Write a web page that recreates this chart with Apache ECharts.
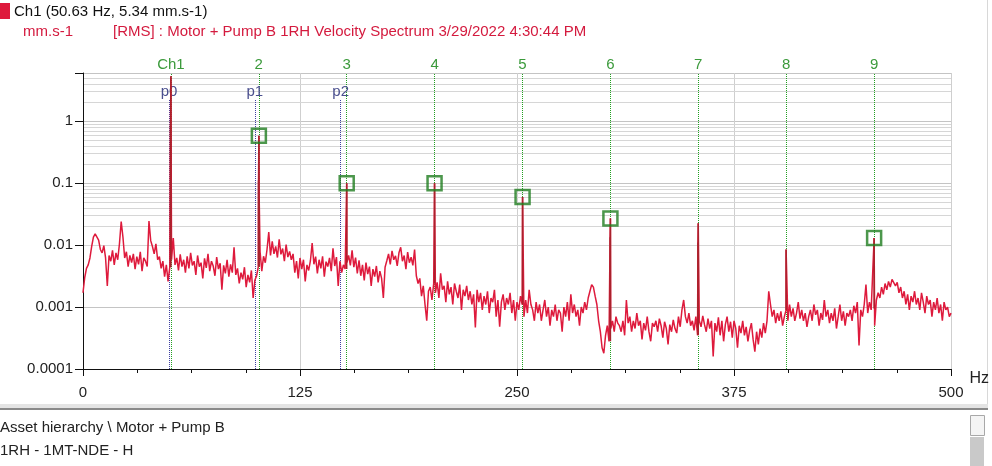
<!DOCTYPE html>
<html>
<head>
<meta charset="utf-8">
<script src="https://cdn.jsdelivr.net/npm/echarts@6/dist/echarts.min.js"></script>
<style>
html,body{margin:0;padding:0;background:#fff;}
#chart{width:992px;height:466px;}
</style>
</head>
<body>
<div id="chart"></div>
<script>
// ---------- DATA ----------
const headerTitle = 'Ch1 (50.63 Hz, 5.34 mm.s-1)';
const unitLabel = 'mm.s-1';
const spectrumTitle = '[RMS] : Motor + Pump B 1RH Velocity Spectrum 3/29/2022 4:30:44 PM';
const panelLines = ['Asset hierarchy \\ Motor + Pump B', '1RH - 1MT-NDE - H'];

const xTickLabels = ['0', '125', '250', '375', '500'];
const yTickLabels = ['0.0001', '0.001', '0.01', '0.1', '1'];

// noise floor, one value per Hz from 0 to 500 Hz (mm/s RMS)
const spectrumStepHz = 1;
const noiseFloor = [
  .0017,.003,.0042,.0048,.0062,.0095,.0135,.0152,.0145,.012,.0085,
  .0075,.0098,.0062,.0022,.0068,.0055,.0082,.0048,.0075,.0058,
  .0105,.024,.0135,.0062,.0078,.0045,.0068,.0052,.0072,.0041,
  .0065,.0049,.0078,.0038,.0062,.0055,.0045,.0245,.0118,.0095,
  .0072,.0105,.0058,.0065,.0042,.0055,.0031,.0048,.0026,.0044,
  .0058,.013,.0048,.0062,.0039,.0071,.0045,.0058,.0036,.0066,
  .0042,.0075,.0047,.0055,.0033,.0068,.0045,.0052,.0029,.0061,
  .0043,.0072,.0038,.0055,.0046,.0032,.0064,.0041,.0051,.0019,
  .0047,.0035,.0058,.0031,.0049,.0036,.0092,.0033,.0042,.0024,
  .0036,.0028,.0044,.0021,.0033,.0025,.0039,.0014,.0027,.0032,
  .0045,.0078,.0038,.0066,.0052,.0085,.0162,.0068,.0115,.0072,
  .0095,.0063,.0124,.0071,.0088,.0055,.0102,.0064,.0079,.0058,
  .0072,.0036,.0055,.0029,.0062,.0041,.0058,.0026,.0048,.0039,
  .0056,.0108,.0049,.0065,.0035,.0058,.0042,.0066,.0031,.0054,
  .0045,.0062,.0038,.0089,.0046,.0064,.0022,.0055,.0036,.0048,
  .0041,.0052,.0068,.0047,.0082,.0044,.0063,.0035,.0057,.0032,
  .0048,.0027,.0052,.0034,.0045,.0022,.0041,.0031,.0046,.0025,
  .0038,.0029,.0014,.0044,.0056,.0072,.0049,.0081,.0058,.0067,
  .0046,.0075,.0092,.0055,.0068,.0041,.0077,.0052,.0064,.0047,
  .0085,.0032,.0024,.0029,.0015,.0022,.0011,.0006,.0018,.0021,
  .0013,.0024,.0017,.0025,.0014,.0035,.0019,.0022,.0012,.0026,
  .0016,.0021,.0011,.0024,.0018,.0014,.0023,.0009,.0019,.0015,
  .0022,.0013,.0018,.0011,.0016,.00047,.0019,.0012,.0017,.0009,
  .0015,.0011,.0018,.0008,.0014,.0012,.0019,.0007,.0013,.00048,
  .0012,.0016,.0009,.0014,.0011,.0017,.0008,.0013,.0006,.0012,
  .0009,.0015,.0011,.0007,.0013,.0008,.0019,.0011,.0009,.0006,
  .0012,.0008,.0011,.0006,.0009,.0013,.0007,.0010,.0005,.0009,
  .0007,.0011,.0006,.0009,.0008,.0004,.0010,.0007,.0012,.0006,
  .0016,.0008,.0011,.0007,.0009,.0005,.0010,.0008,.0012,.0009,
  .0014,.0018,.0023,.0021,.0015,.0011,.0006,.0004,.00022,.00018,
  .00035,.0005,.00028,.00045,.0006,.0004,.0007,.00055,.0005,.0004,
  .0006,.00035,.0013,.00055,.0007,.0004,.0006,.00045,.0008,.0005,
  .0006,.0003,.00055,.00042,.0007,.0004,.00028,.00055,.00048,.0006,
  .0004,.00065,.0005,.00032,.00058,.00045,.00025,.00052,.0004,.00062,
  .00045,.00038,.0007,.00048,.0009,.0013,.0007,.00055,.0008,.0005,
  .0006,.00042,.0007,.00035,.0006,.00048,.00072,.00052,.0004,.00065,
  .00045,.0006,.00016,.00055,.0004,.00068,.00035,.0006,.00028,.00052,
  .0007,.0004,.00058,.00032,.0006,.00045,.00022,.0005,.00038,.0006,
  .00035,.00048,.00028,.00042,.00055,.0003,.00019,.0004,.00025,.00045,
  .00032,.00055,.00038,.0006,.0018,.0011,.0007,.0009,.00055,.0008,
  .0006,.00085,.0005,.0007,.0009,.0006,.0011,.0007,.00095,.0006,
  .0008,.0012,.00065,.0009,.0006,.0008,.00048,.0007,.0009,.0006,
  .0011,.00075,.0009,.0005,.0008,.00062,.0013,.0007,.0009,.00055,
  .0008,.0006,.00095,.00045,.0007,.0011,.0006,.00085,.0005,.0008,
  .0007,.0009,.0006,.00105,.0008,.0012,.00024,.0009,.0007,.0011,
  .0023,.0008,.0012,.0009,.00095,.0005,.0013,.0017,.0014,.0021,
  .0016,.0024,.0019,.0026,.0021,.0028,.0029,.0022,.0025,.0017,
  .0021,.0014,.0018,.0011,.0016,.0009,.0015,.0012,.0018,.0011,
  .0014,.0009,.0017,.0012,.0008,.0015,.0011,.0013,.0007,.0012,
  .0009,.0014,.0008,.0011,.0006,.0012,.0009,.0010,.0007,.0008
];

// discrete spectral peaks (Hz, mm/s)
const peakHz  = [50.4, 50.63, 101.1, 101.3, 101.5, 151.9, 202.5, 253.2, 303.6, 303.8, 354.2, 354.4, 405.0, 455.7];
const peakVal = [0.9,  5.34,  0.11,  0.58,  0.055, 0.1,   0.1,   0.06,  0.0134, 0.027, 0.011, 0.0226, 0.0085, 0.013];

// harmonic cursors (1x..9x of 50.63 Hz)
const harmonicHz = [50.63, 101.26, 151.89, 202.52, 253.15, 303.78, 354.41, 405.04, 455.67];
const harmonicLabels = ['Ch1', '2', '3', '4', '5', '6', '7', '8', '9'];

// harmonic markers (green squares)
const markerHz  = [101.3, 151.9, 202.5, 253.2, 303.8, 455.7];
const markerVal = [0.58,  0.1,   0.1,   0.06,  0.027, 0.013];

// peak cursors p0..p2
const pCursorHz = [49.6, 99.0, 148.4];
const pCursorLabels = ['p0', 'p1', 'p2'];
const pCursorTop = 2.2;

// ---------- BUILD ----------
const spectrum = noiseFloor.map((v, i) => [i * spectrumStepHz, v]);
peakHz.forEach((f, i) => spectrum.push([f, peakVal[i]]));
spectrum.sort((a, b) => a[0] - b[0]);

const stems = [];
peakHz.forEach((f, i) => {
  const base = noiseFloor[Math.floor(f / spectrumStepHz)];
  stems.push([f, base], [f, peakVal[i]], [f, null]);
});

const markers = markerHz.map((f, i) => [f, markerVal[i]]);

const yMin = 0.0001, yMax = 6;
const minorGrid = [];
for (let e = -4; e <= 0; e++) {
  for (let k = 2; k <= 9; k++) {
    const v = k * Math.pow(10, e);
    if (v < yMax) minorGrid.push({ yAxis: v });
  }
}

const FONT = '"Liberation Sans", Arial, sans-serif';
const RED = '#de1a3c';
const GREEN_LINE = '#22a022';
const BLUE_LINE = '#3d3fa0';

const chart = echarts.init(document.getElementById('chart'), null, { renderer: 'canvas' });
chart.setOption({
  animation: false,
  backgroundColor: '#ffffff',
  grid: { left: 83, right: 40, top: 73, bottom: 97 },
  xAxis: {
    type: 'value', min: 0, max: 500, interval: 125,
    name: 'Hz', nameLocation: 'end', nameGap: 14,
    nameTextStyle: { fontSize: 16, color: '#222', fontFamily: FONT, verticalAlign: 'top', padding: [2, 0, 0, 0] },
    axisLine: { show: true, onZero: false, lineStyle: { color: '#111', width: 1 } },
    axisTick: { show: true, length: 7, lineStyle: { color: '#111' } },
    minorTick: { show: true, splitNumber: 4, length: 4, lineStyle: { color: '#111' } },
    splitLine: { show: true, lineStyle: { color: '#cfcfcf', width: 1 } },
    axisLabel: {
      margin: 16, fontSize: 15, color: '#222', fontFamily: FONT,
      formatter: v => xTickLabels[Math.round(v / 125)] ?? ''
    }
  },
  yAxis: {
    type: 'log', logBase: 10, min: yMin, max: yMax,
    axisLine: { show: true, lineStyle: { color: '#111', width: 1 } },
    axisTick: { show: true, length: 8, lineStyle: { color: '#111' } },
    splitLine: { show: true, lineStyle: { color: '#c4c4c4', width: 1 } },
    axisLabel: {
      margin: 10, fontSize: 15, color: '#222', fontFamily: FONT,
      formatter: v => {
        const l = Math.log10(v);
        if (Math.abs(l - Math.round(l)) > 1e-6) return '';
        return yTickLabels[Math.round(l) + 4] ?? '';
      }
    }
  },
  series: [
    {
      name: 'minorGrid', type: 'line', data: [], silent: true,
      markLine: {
        silent: true, symbol: ['none', 'none'], z: 0, animation: false,
        label: { show: false },
        lineStyle: { color: '#d6d6d6', type: 'solid', width: 1 },
        data: minorGrid
      }
    },
    {
      name: 'spectrum', type: 'line', data: spectrum, showSymbol: false, z: 3,
      lineStyle: { color: RED, width: 1.5 },
      itemStyle: { color: RED },
      markLine: {
        silent: true, symbol: ['none', 'none'], z: 1, animation: false,
        lineStyle: { color: GREEN_LINE, type: 'dotted', width: 1, opacity: 1 },
        emphasis: { disabled: true },
        label: {
          show: true, position: 'end', distance: 1,
          color: '#3b9a3b', fontSize: 15, fontFamily: FONT,
          formatter: p => p.name
        },
        data: harmonicHz.map((f, i) => ({
          xAxis: f, name: harmonicLabels[i],
          lineStyle: { color: GREEN_LINE, type: 'dotted', width: 1 }
        }))
      }
    },
    {
      name: 'stems', type: 'line', data: stems, showSymbol: false, z: 4,
      connectNulls: false,
      lineStyle: { color: '#a8222c', width: 1.5 },
      itemStyle: { color: '#a8222c' },
      markLine: {
        silent: true, symbol: ['none', 'none'], z: 1, animation: false,
        lineStyle: { color: BLUE_LINE, type: 'dotted', width: 1 },
        emphasis: { disabled: true },
        label: {
          show: true, position: 'end', distance: 1,
          color: '#4a4f8e', fontSize: 15, fontFamily: FONT,
          formatter: p => p.name
        },
        data: pCursorHz.map((f, i) => [
          { coord: [f, yMin], name: pCursorLabels[i], lineStyle: { color: BLUE_LINE, type: 'dotted', width: 1 } },
          { coord: [f, pCursorTop] }
        ])
      }
    },
    {
      name: 'markers', type: 'scatter', data: markers, z: 6,
      symbol: 'rect', symbolSize: 14,
      itemStyle: { color: 'rgba(255,255,255,0)', borderColor: '#1f7d1f', borderWidth: 2.5 }
    }
  ],
  graphic: [
    { type: 'rect', left: 0, top: 3, shape: { width: 10, height: 16 }, style: { fill: RED } },
    { type: 'text', left: 14, top: 4, style: { text: headerTitle, fill: '#111', font: '15px ' + FONT } },
    { type: 'text', left: 23, top: 24, style: { text: unitLabel, fill: '#d41a3e', font: '15px ' + FONT } },
    { type: 'text', left: 113, top: 24, style: { text: spectrumTitle, fill: '#d41a3e', font: '15px ' + FONT } },
    { type: 'rect', left: 987, top: 0, shape: { width: 1, height: 406 }, style: { fill: '#d8d8d8' } },
    { type: 'rect', left: 0, top: 404, shape: { width: 988, height: 4 }, style: { fill: '#e4e4e4' } },
    { type: 'rect', left: 0, top: 408, shape: { width: 988, height: 2 }, style: { fill: '#8a8a8a' } },
    { type: 'text', left: 0, top: 420, style: { text: panelLines[0], fill: '#222', font: '15px ' + FONT } },
    { type: 'text', left: 0, top: 443, style: { text: panelLines[1], fill: '#222', font: '15px ' + FONT } },
    { type: 'rect', left: 970, top: 415, shape: { width: 14, height: 20 }, style: { fill: '#f4f4f4', stroke: '#a8a8a8', lineWidth: 1 } },
    { type: 'rect', left: 970, top: 437, shape: { width: 14, height: 29 }, style: { fill: '#c9c9c9' } }
  ]
});
</script>
</body>
</html>
